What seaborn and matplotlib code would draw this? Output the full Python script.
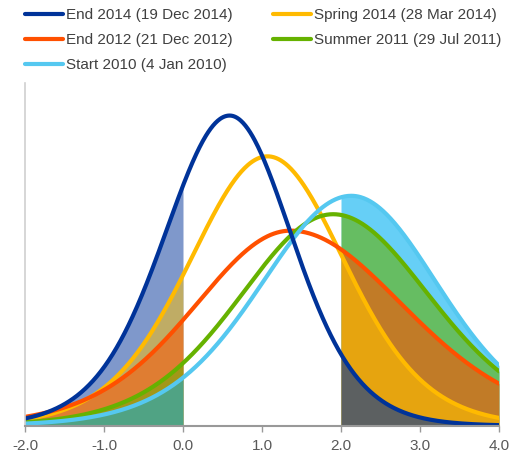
import numpy as np
import pandas as pd
import matplotlib
matplotlib.use('Agg')
import matplotlib.pyplot as plt
import seaborn as sns

# one curve per date: mode, left/right spread and peak height
labels = ['End 2014 (19 Dec 2014)', 'Spring 2014 (28 Mar 2014)', 'End 2012 (21 Dec 2012)',
          'Summer 2011 (29 Jul 2011)', 'Start 2010 (4 Jan 2010)']
modes = [0.59, 1.07, 1.36, 1.90, 2.13]
spread_left = [0.85, 1.01, 1.25, 1.21, 1.18]
spread_right = [0.81, 1.00, 1.48, 1.26, 1.13]
peaks = [0.472, 0.410, 0.297, 0.322, 0.350]
tail_df = 12  # fat-tail shape (student-t like), the tails are heavier than gaussian
tick_values = [-2.0, -1.0, 0.0, 1.0, 2.0, 3.0, 4.0]

line_colors = ['#003399', '#FFBA00', '#FF5000', '#66B200', '#55C8F0']
fill_colors = ['#003399', '#FFC000', '#FF5000', '#66B200', '#00B0F0']

sns.set_style('white')
plt.rcParams['font.family'] = ['Liberation Sans', 'DejaVu Sans']

x = np.linspace(-2, 4, 601)
curves = {}
for lab, m, sl, sr, pk in zip(labels, modes, spread_left, spread_right, peaks):
    z = (x - m) / np.where(x < m, sl, sr)
    curves[lab] = pk * (1 + z ** 2 / tail_df) ** (-(tail_df + 1) / 2)
df = pd.DataFrame(curves)
df['x'] = x

fig = plt.figure(figsize=(5.13, 4.58), dpi=100)
ax = fig.add_axes([25/513, 32/458, 474/513, 343/458])

left = df['x'] <= 0
right = df['x'] >= 2
# left tail: blue at the bottom, light blue on top
for lab, c in zip(labels, fill_colors):
    ax.fill_between(df['x'][left], 0, df[lab][left], color=c, alpha=0.5, lw=0)
# right tail: the other way round
for lab, c in list(zip(labels, fill_colors))[::-1]:
    ax.fill_between(df['x'][right], 0, df[lab][right], color=c, alpha=0.6, lw=0)

handles = {}
for i in [1, 2, 3, 4, 0]:
    sns.lineplot(data=df, x='x', y=labels[i], color=line_colors[i], lw=3, ax=ax,
                 label=labels[i], legend=False)
    handles[i] = ax.get_lines()[-1]

ax.set_xlim(-2, 4)
ax.set_ylim(0, 0.5215)
ax.set_xticks(tick_values)
ax.set_xticklabels([f'{v:.1f}' for v in tick_values])
ax.set_yticks([])
ax.set_xlabel('')
ax.set_ylabel('')
for sp in ['top', 'right']:
    ax.spines[sp].set_visible(False)
ax.spines['left'].set_color('#d0d0d0')
ax.spines['left'].set_linewidth(1.2)
ax.spines['bottom'].set_color('#999999')
ax.spines['bottom'].set_linewidth(1.5)
ax.tick_params(axis='x', bottom=True, length=4, width=1, color='#999999',
               labelcolor='#595959', labelsize=11, pad=5)

order = [0, 2, 4, 1, 3]
leg = fig.legend([handles[i] for i in order], [labels[i] for i in order], ncol=2,
                 loc='upper left', bbox_to_anchor=(25/513, 1 - 8.5/458), frameon=False,
                 fontsize=11, handlelength=2.5, handletextpad=0.2, columnspacing=2.6,
                 labelspacing=0.7, borderpad=0, borderaxespad=0)
for t in leg.get_texts():
    t.set_color('#404040')

fig.savefig('out.png', dpi=100)
